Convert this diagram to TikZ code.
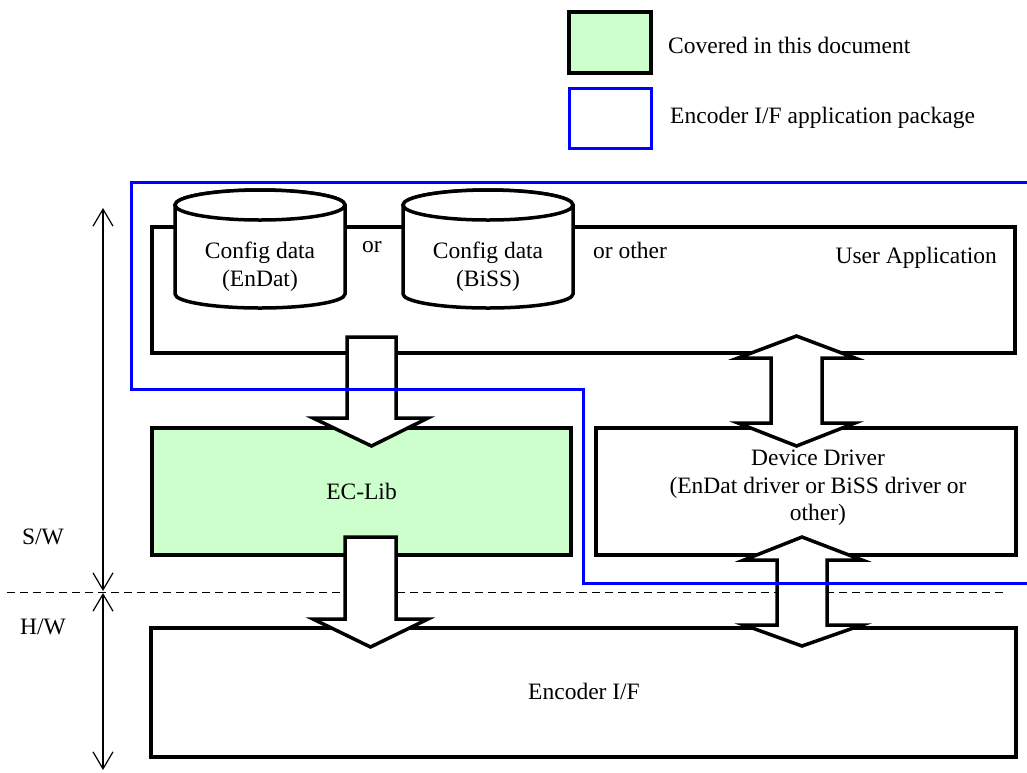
\documentclass[tikz,border=0pt]{standalone}
\usepackage{fontspec}
\setmainfont{Liberation Serif}
\usetikzlibrary{arrows.meta}
\definecolor{libgreen}{RGB}{204,255,204}
\definecolor{pkgblue}{RGB}{0,0,255}
\begin{document}
\begin{tikzpicture}[x=1pt,y=-1pt,
  txt/.style={font=\fontsize{23.5}{27.5}\selectfont, inner sep=0pt, align=center},
  box/.style={draw=black, line width=3.5pt, inner sep=0pt},
  cyl/.style={draw=black, fill=white, line width=3.5pt},
  blockarrow/.style={draw=black, fill=white, line width=3.5pt, line join=miter, miter limit=10},
  pkgline/.style={draw=pkgblue, line width=3pt},
  dimarrow/.style={line width=1.2pt, {Straight Barb[length=17pt,width=20pt]}-{Straight Barb[length=17pt,width=20pt]}},
  sepline/.style={line width=1pt, dash pattern=on 8pt off 5pt}]
\useasboundingbox (0,0) rectangle (1027,772);

% legend
\node[box, fill=libgreen, line width=4pt, minimum width=82pt, minimum height=61pt] (lgreen) at (610,42.5) {};
\node[box, draw=pkgblue, line width=3pt, minimum width=82pt, minimum height=60pt] (lblue) at (610,118) {};
\node[txt, anchor=west] (lgreentxt) at (668,45) {Covered in this document};
\node[txt, anchor=west] (lbluetxt) at (670,118) {Encoder I/F application package};

% user application
\node[box, minimum width=863pt, minimum height=126pt] (ua) at (583.5,290) {};
\node[txt, anchor=east] (uatxt) at (997,258) {User Application};

% cylinders
\filldraw[cyl] (175,205) -- (175,294) arc[start angle=180, end angle=0, x radius=85, y radius=14] -- (345,205) arc[start angle=0, end angle=-180, x radius=85, y radius=15] -- cycle;
\draw[cyl] (260,205) ellipse [x radius=85, y radius=15];
\node[txt] (cyl1) at (260,266.5) {Config data\\(EnDat)};
\filldraw[cyl] (403,205) -- (403,294) arc[start angle=180, end angle=0, x radius=85, y radius=14] -- (573,205) arc[start angle=0, end angle=-180, x radius=85, y radius=15] -- cycle;
\draw[cyl] (488,205) ellipse [x radius=85, y radius=15];
\node[txt] (cyl2) at (488,266.5) {Config data\\(BiSS)};
\node[txt] (or1) at (372,247) {or};
\node[txt, anchor=west] (or2) at (593,250) {or other};

% lower boxes
\node[box, fill=libgreen, minimum width=419pt, minimum height=127pt] (ec) at (361.5,491.5) {};
\node[txt] (ectxt) at (361.5,491) {EC-Lib};
\node[box, minimum width=420pt, minimum height=127pt] (dd) at (806,491.5) {};
\node[txt] (ddtxt) at (818,488) {Device Driver\\(EnDat driver or BiSS driver or\\other)};
\node[box, minimum width=865pt, minimum height=129pt] (enc) at (583.5,692.5) {};
\node[txt] (enctxt) at (584,691) {Encoder I/F};

% S/W - H/W separation
\draw[sepline] (7,592) -- (1003,592);

% block arrows
\draw[blockarrow] (347,337) -- (396,337) -- (396,418) -- (428,418) -- (371.5,446) -- (313,418) -- (347,418) -- cycle;
\draw[blockarrow] (345,537) -- (396,537) -- (396,619) -- (428,619) -- (370.5,647) -- (313,619) -- (345,619) -- cycle;
\draw[blockarrow] (796.5,336) -- (855,358) -- (822,358) -- (822,423) -- (855,423) -- (796.5,446) -- (738,423) -- (771,423) -- (771,358) -- (738,358) -- cycle;
\draw[blockarrow] (802,537) -- (862,560) -- (827,560) -- (827,625) -- (862,625) -- (802,646) -- (744,625) -- (777,625) -- (777,560) -- (744,560) -- cycle;

% package outline
\draw[pkgline] (1030,182) -- (131,182) -- (131,389) -- (583,389) -- (583,583) -- (1030,583);

% S/W and H/W extent
\coordinate (swtop) at (103,208);
\coordinate (swbot) at (103,591);
\coordinate (hwtop) at (103,593);
\coordinate (hwbot) at (103,770);
\draw[dimarrow] (swtop) -- (swbot);
\draw[dimarrow] (hwtop) -- (hwbot);
\node[txt] (sw) at (43,537) {S/W};
\node[txt] (hw) at (43,627) {H/W};
\end{tikzpicture}
\end{document}
